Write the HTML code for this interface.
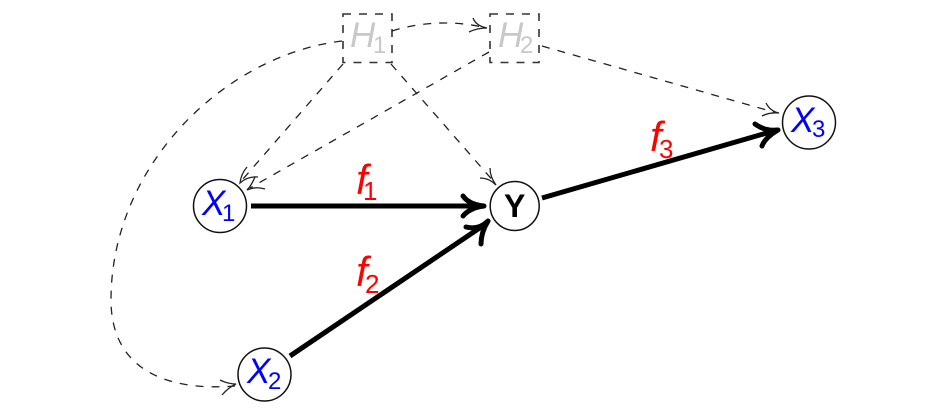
<!DOCTYPE html>
<html><head><meta charset="utf-8"><style>html,body{margin:0;padding:0;background:#fff}svg{display:block}text{font-family:"Liberation Sans",sans-serif}</style></head><body>
<svg width="931" height="412" viewBox="0 0 931 412" xmlns="http://www.w3.org/2000/svg">
<g fill="none" stroke="#222" stroke-width="1.3">
<g stroke-dasharray="8 8">
<rect x="343" y="14" width="49" height="48.5" stroke="#333" stroke-width="1.6"/>
<rect x="490" y="14" width="49" height="48.5" stroke="#333" stroke-width="1.6"/>
<path d="M342 41C225 55 111 165 111 300C111 365 160 392 235 386"/>
<path d="M392 31C420 22 455 20 486 28"/>
<path d="M343 64L243 179"/>
<path d="M489 52L250 188"/>
<path d="M391 64L495 183"/>
<path d="M542 46L777 113"/>
</g>
<path d="M473 18Q476 26 487 28Q477 28 469 32"/>
<path d="M247 167Q241 174 240 183Q248 176 258 177"/>
<path d="M255 177Q251 186 247 190Q256 186 265 189"/>
<path d="M490 168Q490 177 496 185Q489 178 480 178"/>
<path d="M766 103Q770 111 779 113Q770 112 762 116"/>
<path d="M220 380Q228 384 236 384Q229 387 222 395"/>
<circle cx="220" cy="206" r="26.5" stroke="#111" stroke-width="1.5"/>
<circle cx="264.5" cy="374.5" r="26.5" stroke="#111" stroke-width="1.5"/>
<circle cx="514.7" cy="206" r="24.5" stroke="#111" stroke-width="1.5"/>
<circle cx="809" cy="122.5" r="26.5" stroke="#111" stroke-width="1.5"/>
</g>
<g fill="none" stroke="#000" stroke-width="5">
<path d="M251 206H484"/>
<path d="M290 356L487 223"/>
<path d="M542 198L777 130"/>
</g>
<g fill="none" stroke="#000" stroke-width="5" stroke-linecap="round" stroke-linejoin="round">
<path d="M463 196C468 203 476 205 484 206C476 207 468 210 463 216"/>
<path d="M466 228C474 230 482 228 488 222C483 230 481 237 481 245" transform="translate(0,-1)"/>
<path d="M755 124C762 129 770 131 778 130C771 134 764 140 762 146"/>
</g>
<g font-style="italic" font-size="35">
<text x="350" y="47" fill="#c8c8c8">H</text>
<text x="498" y="47" fill="#c8c8c8">H</text>
<text x="202" y="215" fill="#0000ff">X</text>
<text x="247" y="383" fill="#0000ff">X</text>
<text x="791" y="132" fill="#0000ff">X</text>
</g>
<g font-style="italic" font-size="42" fill="#ff0000">
<text x="356" y="194">f</text>
<text x="356" y="286">f</text>
<text x="650" y="151">f</text>
</g>
<g font-size="24">
<text x="373" y="53" fill="#c8c8c8">1</text>
<text x="520" y="53" fill="#c8c8c8">2</text>
<text x="222" y="221" fill="#0000ff">1</text>
<text x="268" y="389" fill="#0000ff">2</text>
<text x="812" y="137" fill="#0000ff">3</text>
</g>
<g font-size="26" fill="#ff0000">
<text x="363" y="200">1</text>
<text x="365" y="293">2</text>
<text x="659" y="158">3</text>
</g>
<text x="504" y="217" font-size="32" font-weight="bold" fill="#000">Y</text>
</svg>
</body></html>
